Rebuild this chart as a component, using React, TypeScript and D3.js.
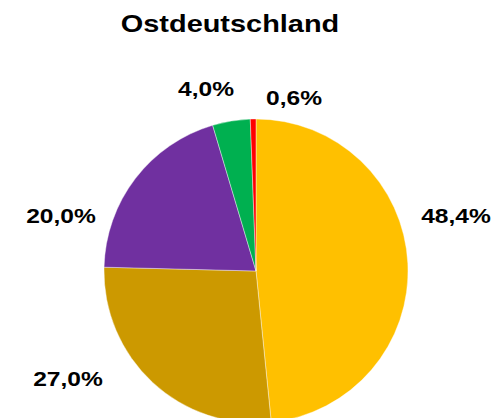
import React from "react";
import * as d3 from "d3";

// chart data
const categories = ["A", "B", "C", "D", "E"];
const shares = [48.4, 27.0, 20.0, 4.0, 0.6];
const colors = ["#FFC000", "#CC9900", "#7030A0", "#00B050", "#FF0000"];
const labels = ["48,4%", "27,0%", "20,0%", "4,0%", "0,6%"];
const title = "Ostdeutschland";

// label anchors (text centre, baseline) as placed in the original chart
const labelPos: [number, number][] = [
  [456, 223],
  [68, 386],
  [61, 223],
  [206, 96],
  [294, 105],
];

export default function App() {
  const width = 498;
  const height = 418;
  const cx = 256;
  const cy = 271;
  const radius = 152;

  const pie = d3
    .pie<number>()
    .sort(null)
    .value((d) => d)
    .startAngle(0)
    .endAngle(2 * Math.PI);

  const arc = d3.arc<d3.PieArcDatum<number>>().innerRadius(0).outerRadius(radius);

  const slices = pie(shares);

  // the original text is stretched horizontally
  const stretch = 1.17;

  return (
    <div style={{ position: "fixed", left: 0, top: 0 }}>
      <svg width={width} height={height} style={{ display: "block" }}>
        <rect width={width} height={height} fill="#fff" />
        <text
          transform={`translate(230,32) scale(${stretch * 1.03},1)`}
          textAnchor="middle"
          fontFamily="'Liberation Sans', Arial, sans-serif"
          fontWeight="bold"
          fontSize={24}
        >
          {title}
        </text>
        <g transform={`translate(${cx},${cy})`}>
          {slices.map((s, i) => (
            <path
              key={categories[i]}
              d={arc(s) || ""}
              fill={colors[i]}
              stroke="#fff"
              strokeWidth={0.4}
            />
          ))}
        </g>
        {labels.map((t, i) => (
          <text
            key={t}
            transform={`translate(${labelPos[i][0]},${labelPos[i][1]}) scale(${stretch},1)`}
            textAnchor="middle"
            fontFamily="'Liberation Sans', Arial, sans-serif"
            fontWeight="bold"
            fontSize={21}
          >
            {t}
          </text>
        ))}
      </svg>
    </div>
  );
}
